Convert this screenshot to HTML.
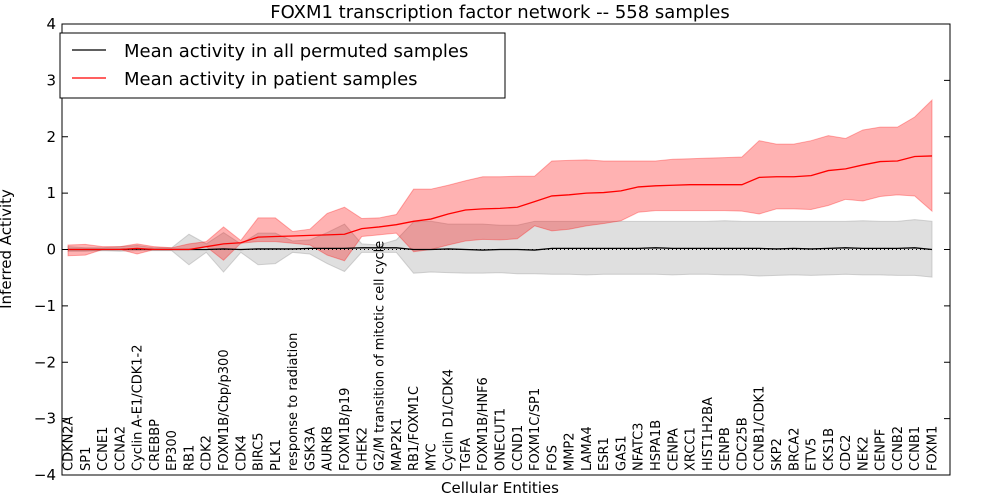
<!DOCTYPE html>
<html><head><meta charset="utf-8"><style>
body{margin:0;background:#fff;}
svg{display:block;font-family:"DejaVu Sans","Liberation Sans",sans-serif;}
</style></head><body>
<svg id="chart" width="1000" height="500">
<text x="500" y="18" text-anchor="middle" font-size="18">FOXM1 transcription factor network -- 558 samples</text>
<text x="500" y="493" text-anchor="middle" font-size="15">Cellular Entities</text>
<text transform="translate(11,249) rotate(-90)" text-anchor="middle" font-size="15">Inferred Activity</text>
<g id="plot"></g>
</svg>
<script>
const categories=["CDKN2A","SP1","CCNE1","CCNA2","Cyclin A-E1/CDK1-2","CREBBP","EP300","RB1","CDK2","FOXM1B/Cbp/p300","CDK4","BIRC5","PLK1","response to radiation","GSK3A","AURKB","FOXM1B/p19","CHEK2","G2/M transition of mitotic cell cycle","MAP2K1","RB1/FOXM1C","MYC","Cyclin D1/CDK4","TGFA","FOXM1B/HNF6","ONECUT1","CCND1","FOXM1C/SP1","FOS","MMP2","LAMA4","ESR1","GAS1","NFATC3","HSPA1B","CENPA","XRCC1","HIST1H2BA","CENPB","CDC25B","CCNB1/CDK1","SKP2","BRCA2","ETV5","CKS1B","CDC2","NEK2","CENPF","CCNB2","CCNB1","FOXM1"];
const patientMean=[0,0,0,0,0.02,0,0,0,0.05,0.1,0.12,0.22,0.23,0.24,0.25,0.26,0.27,0.37,0.4,0.44,0.5,0.54,0.63,0.7,0.72,0.73,0.75,0.85,0.95,0.97,1.0,1.01,1.04,1.11,1.13,1.14,1.15,1.15,1.15,1.15,1.28,1.29,1.29,1.31,1.40,1.43,1.50,1.56,1.57,1.65,1.66];
const patientUpper=[0.08,0.09,0.05,0.05,0.10,0.05,0.03,0.1,0.14,0.40,0.16,0.56,0.56,0.32,0.36,0.64,0.75,0.55,0.56,0.62,1.07,1.07,1.14,1.22,1.29,1.29,1.30,1.30,1.57,1.58,1.59,1.57,1.57,1.57,1.57,1.60,1.61,1.62,1.63,1.64,1.93,1.87,1.87,1.93,2.02,1.97,2.12,2.17,2.17,2.35,2.65];
const patientLower=[-0.11,-0.10,0,0,-0.08,0,0,0,0.05,-0.19,0.11,0.14,0.14,0.11,0.08,-0.1,-0.2,0.23,0.26,0.29,-0.04,0.0,0.08,0.15,0.18,0.17,0.19,0.42,0.33,0.36,0.42,0.46,0.51,0.66,0.69,0.69,0.69,0.69,0.69,0.68,0.63,0.72,0.72,0.71,0.78,0.89,0.86,0.94,0.97,0.95,0.68];
const permMean=[0,0,0,0,0.01,0,0,0,0,0.01,0,0.01,0.01,0.01,0.02,0.02,0.02,0.03,0.03,0.03,0,0,0.01,0,-0.01,0,0,-0.01,0.02,0.02,0.02,0.02,0.02,0.02,0.03,0.02,0.02,0.02,0.02,0.02,0.02,0.01,0.02,0.01,0.02,0.03,0.02,0.02,0.02,0.03,0];
const permUpper=[0.05,0.03,0.03,0.05,0.07,0.03,0.03,0.27,0.1,0.3,0.1,0.29,0.29,0.15,0.17,0.3,0.45,0.1,0.08,0.17,0.49,0.5,0.45,0.45,0.45,0.43,0.43,0.5,0.5,0.5,0.5,0.5,0.5,0.5,0.5,0.5,0.5,0.5,0.51,0.5,0.5,0.5,0.5,0.5,0.5,0.5,0.51,0.5,0.5,0.53,0.5];
const permLower=[-0.03,-0.03,-0.02,-0.03,-0.02,-0.02,-0.02,-0.27,-0.05,-0.4,-0.05,-0.27,-0.25,-0.05,-0.08,-0.25,-0.39,-0.05,-0.05,-0.05,-0.42,-0.4,-0.41,-0.42,-0.42,-0.41,-0.43,-0.43,-0.44,-0.44,-0.45,-0.44,-0.44,-0.44,-0.44,-0.45,-0.44,-0.44,-0.45,-0.45,-0.47,-0.46,-0.45,-0.46,-0.45,-0.44,-0.45,-0.45,-0.46,-0.46,-0.49];
const yTicks=[4,3,2,1,0,-1,-2,-3,-4];
const yTickLabels=["4","3","2","1","0","\u22121","\u22122","\u22123","\u22124"];

const L=62,R=950,T=24,B=475;
function xS(i){return 68+i*(864/(categories.length-1));}
function yS(v){return T+(4-v)*(B-T)/8;}
const NS="http://www.w3.org/2000/svg";
const g=document.getElementById('plot');
function mk(tag,attrs,parent){const e=document.createElementNS(NS,tag);for(const k in attrs)e.setAttribute(k,attrs[k]);(parent||g).appendChild(e);return e;}
function band(up,lo,fill,op,stroke){
  let pts=up.map((v,i)=>xS(i)+','+yS(v));
  for(let i=lo.length-1;i>=0;i--)pts.push(xS(i)+','+yS(lo[i]));
  return mk('polygon',{points:pts.join(' '),fill:fill,'fill-opacity':op,stroke:stroke,'stroke-opacity':op,'stroke-width':1});
}
function line(vals,color,w){
  return mk('polyline',{points:vals.map((v,i)=>xS(i)+','+yS(v)).join(' '),fill:'none',stroke:color,'stroke-width':w});
}
const pb=band(permUpper,permLower,'#c0c0c0',0.5,'#aaa');


const rb=band(patientUpper,patientLower,'#ff0000',0.3,'#ff0000');


const zl=mk('line',{x1:xS(0),x2:xS(categories.length-1),y1:yS(0),y2:yS(0),stroke:'#000','stroke-width':1,'stroke-dasharray':'1,3'});


const pl=line(permMean,'#000',1.3);


const rl=line(patientMean,'#ff0000',1.3);


const fr=mk('rect',{x:L,y:T,width:R-L,height:B-T,fill:'none',stroke:'#000','stroke-width':1});


yTicks.forEach((v,k)=>{
  const y=yS(v);
  mk('line',{x1:L,x2:L+6,y1:y,y2:y,stroke:'#000'});
  mk('line',{x1:R-6,x2:R,y1:y,y2:y,stroke:'#000'});
  const t=mk('text',{x:L-6,y:y+5,'text-anchor':'end','font-size':15});
  t.textContent=yTickLabels[k];
  
  
});
categories.forEach((c,i)=>{
  const x=xS(i);
  const t=mk('text',{transform:'translate('+(x+4.5)+','+(B-4)+') rotate(-90)','font-size':13});
  t.textContent=c;
  
  
});
const lg=mk('g',{});


mk('rect',{x:60,y:33,width:445,height:65,fill:'#fff',stroke:'#000'},lg);
mk('line',{x1:72,x2:106,y1:50,y2:50,stroke:'#000','stroke-width':1.2},lg);
const t1=mk('text',{x:124,y:57,'font-size':18},lg);t1.textContent='Mean activity in all permuted samples';


mk('line',{x1:72,x2:106,y1:78,y2:78,stroke:'#ff0000','stroke-width':1.2},lg);
const t2=mk('text',{x:124,y:85,'font-size':18},lg);t2.textContent='Mean activity in patient samples';


</script>
</body></html>
